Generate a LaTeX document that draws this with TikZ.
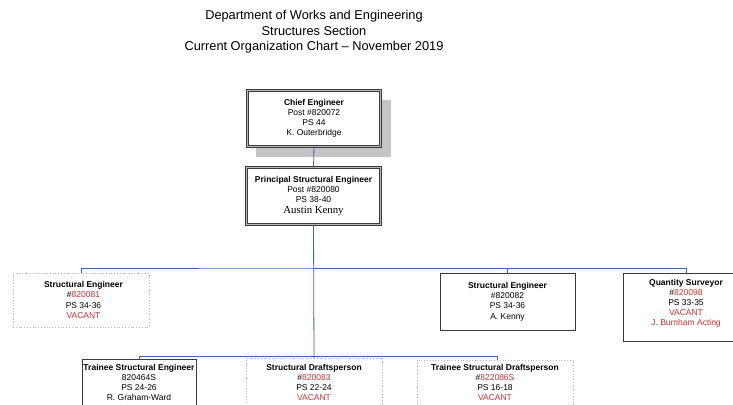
\documentclass[tikz,border=0pt]{standalone}
\usepackage{fontspec}
\setmainfont{Liberation Sans}
\newfontfamily\serifname{Liberation Serif}
\definecolor{linkblue}{RGB}{60,100,190}
\definecolor{vred}{RGB}{205,50,50}
\definecolor{boxline}{RGB}{60,60,60}
\definecolor{shadowgray}{RGB}{196,196,196}
\begin{document}
\begin{tikzpicture}[x=1pt,y=-1pt,
  every node/.style={inner sep=0pt, outer sep=0pt, align=center, font=\fontsize{8.5}{10.2}\selectfont},
  dblbox/.style={draw=boxline, double=gray!55, double distance=1.0pt, line width=0.8pt, fill=white},
  solidbox/.style={draw=boxline, line width=0.8pt, fill=white},
  dotbox/.style={draw=gray!55, dotted, line width=0.8pt, fill=white},
  link/.style={draw=linkblue, line width=0.8pt}]
\useasboundingbox (0,0) rectangle (733,404);
% title
\node[font=\fontsize{12.8}{15.5}\selectfont] (title) at (314,32)
  {Department of Works and Engineering\\Structures Section\\Current Organization Chart -- November 2019};
% shadow
\fill[shadowgray] (256,100) rectangle (391,157);
\coordinate (hA) at (313.5,268);
\coordinate (hB) at (313.5,356.5);
\node[dblbox, minimum width=133pt, minimum height=56pt] (chief) at (314,118.5)
  {\textbf{Chief Engineer}\\Post \#820072\\PS 44\\K. Outerbridge};
\node[dblbox, minimum width=134pt, minimum height=57pt] (principal) at (313.5,196)
  {\textbf{Principal Structural Engineer}\\Post \#820080\\PS 38-40\\[0.5pt]{\serifname\fontsize{10.8}{11}\selectfont Austin Kenny}};
\node[dotbox, minimum width=136pt, minimum height=54pt] (se1) at (81,300)
  {\hspace*{5pt}\textbf{Structural Engineer}\\\hspace*{5pt}\#\textcolor{vred}{820081}\\\hspace*{5pt}PS 34-36\\\hspace*{5pt}\textcolor{vred}{VACANT}};
\node[solidbox, minimum width=135pt, minimum height=57pt] (se2) at (507.5,301.5)
  {\textbf{Structural Engineer}\\\#820082\\PS 34-36\\A. Kenny};
\node[solidbox, minimum width=126pt, minimum height=68pt, anchor=north west] (qs) at (623,273) {};
\node[anchor=north] (qstext) at (686,279)
  {\textbf{Quantity Surveyor}\\\#\textcolor{vred}{820098}\\PS 33-35\\\textcolor{vred}{VACANT}\\\textcolor{vred}{J. Burnham Acting}};
\node[solidbox, minimum width=114pt, minimum height=60pt, anchor=north west] (tse) at (82,359) {};
\node[anchor=north] (tsetext) at (139,364)
  {\textbf{Trainee Structural Engineer}\\820464S\\PS 24-26\\R. Graham-Ward};
\node[dotbox, minimum width=136pt, minimum height=60pt, anchor=north west] (sd) at (246,358.5) {};
\node[anchor=north] (sdtext) at (314,364)
  {\textbf{Structural Draftsperson}\\\#\textcolor{vred}{820083}\\PS 22-24\\\textcolor{vred}{VACANT}};
\node[dotbox, minimum width=156pt, minimum height=60pt, anchor=north west] (tsd) at (417,360) {};
\node[anchor=north] (tsdtext) at (495,364)
  {\textbf{Trainee Structural Draftsperson}\\\#\textcolor{vred}{822086S}\\PS 16-18\\\textcolor{vred}{VACANT}};
% lines
\draw[link] (chief.south) -- (principal.north);
\draw[link] (principal.south) -- (sd.north);
\draw[link] (se1.north -| 81,0) |- (hA) -| (qs.north west -| 686,0);
\draw[link] (hA) -| (se2.north);
\draw[link] (tse.north west -| 139,0) |- (hB) -| (tsd.north west -| 497,0);
\end{tikzpicture}
\end{document}
